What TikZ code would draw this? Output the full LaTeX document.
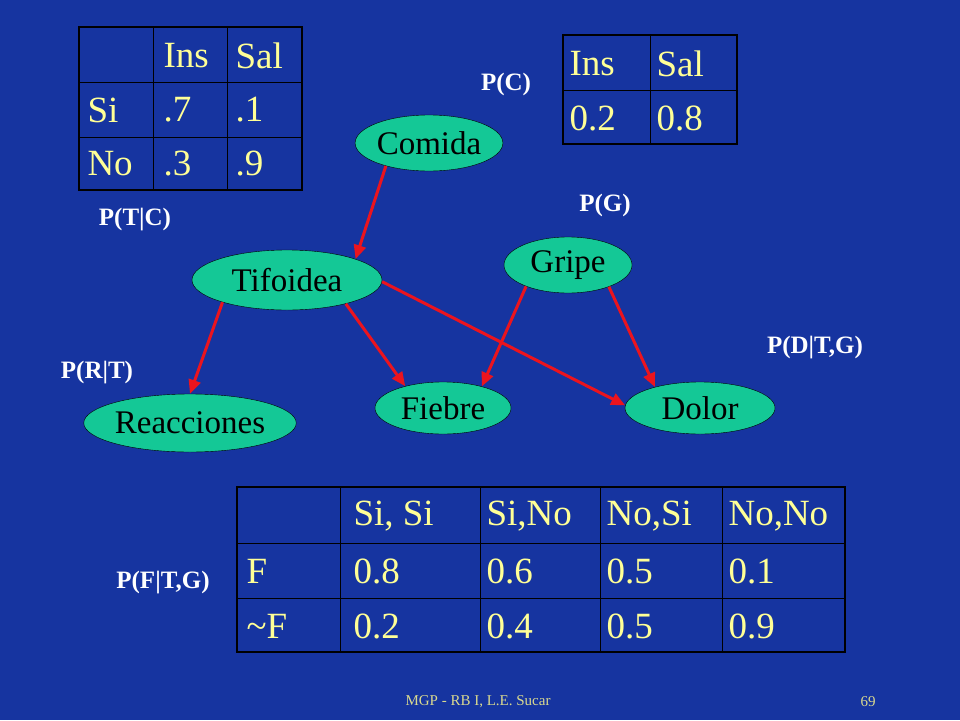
\documentclass[tikz,border=0pt]{standalone}
\usepackage{fontspec}
\setmainfont{Liberation Serif}
\usepackage{xcolor}
\usetikzlibrary{shapes.geometric,arrows.meta,calc}
\definecolor{slide}{RGB}{22,52,160}
\definecolor{nodefill}{RGB}{20,200,150}
\definecolor{celltext}{RGB}{255,255,150}
\definecolor{edgered}{RGB}{235,20,30}
\tikzset{
  var/.style={ellipse,draw=black,fill=nodefill,inner sep=0pt,font=\fontsize{33}{33}\selectfont},
  plabel/.style={text=white,font=\fontsize{25}{25}\selectfont\bfseries},
  cell/.style={anchor=west,text=celltext,font=\fontsize{37}{37}\selectfont},
  link/.style={edgered,line width=3pt,-{Triangle[length=14pt,width=12pt]}}
}
\begin{document}
\begin{tikzpicture}[x=1pt,y=-1pt]
      \fill[slide] (0,0) rectangle (960,720);
      \useasboundingbox (0,0) rectangle (960,720);

      % table P(T|C)
      \foreach \xx in {153,227} \draw[black] (\xx,27) -- (\xx,190);
      \foreach \yy in {82,137} \draw[black] (79,\yy) -- (302,\yy);
      \draw[black,line width=2.5pt] (79,27) rectangle (302,190);
      \node[cell] (tcA) at (160,56) {Ins};
      \node[cell] (tcB) at (232,56) {Sal};
      \node[cell] (tcC) at (84,110) {Si};
      \node[cell] (tcD) at (160,110) {.7};
      \node[cell] (tcE) at (232,110) {.1};
      \node[cell] (tcF) at (84,164) {No};
      \node[cell] (tcG) at (160,164) {.3};
      \node[cell] (tcH) at (232,164) {.9};

      % table P(C)
      \draw[black] (650,35) -- (650,144);
      \draw[black] (563,90) -- (737,90);
      \draw[black,line width=2.5pt] (563,35) rectangle (737,144);
      \node[cell] (cA) at (566,64) {Ins};
      \node[cell] (cB) at (653,64) {Sal};
      \node[cell] (cC) at (566,118) {0.2};
      \node[cell] (cD) at (653,118) {0.8};

      % table P(F|T,G)
      \foreach \xx in {340,480,600,722} \draw[black] (\xx,487) -- (\xx,652);
      \foreach \yy in {543,598} \draw[black] (237,\yy) -- (845,\yy);
      \draw[black,line width=2.5pt] (237,487) rectangle (845,652);
      \node[cell] (fA) at (350,516) {Si, Si};
      \node[cell] (fB) at (483,516) {Si,No};
      \node[cell] (fC) at (603,516) {No,Si};
      \node[cell] (fD) at (725,516) {No,No};
      \node[cell] (fE) at (243,571) {F};
      \node[cell] (fF) at (350,571) {0.8};
      \node[cell] (fG) at (483,571) {0.6};
      \node[cell] (fH) at (603,571) {0.5};
      \node[cell] (fI) at (725,571) {0.1};
      \node[cell] (fJ) at (243,626) {\char`\~F};
      \node[cell] (fK) at (350,626) {0.2};
      \node[cell] (fL) at (483,626) {0.4};
      \node[cell] (fM) at (603,626) {0.5};
      \node[cell] (fN) at (725,626) {0.9};

      % nodes
      \node[var,minimum width=140pt,minimum height=56pt] (comida) at (429,143) {Comida};
      \node[var,minimum width=190pt,minimum height=60pt] (tifo) at (287,280) {Tifoidea};
      \node[var,minimum width=128pt,minimum height=56pt] (gripe) at (568,265) {Gripe};
      \node[var,minimum width=190pt,minimum height=58pt] (reac) at (190,423) {Reacciones};
      \node[var,minimum width=136pt,minimum height=52pt] (fiebre) at (443,408) {Fiebre};
      \node[var,minimum width=150pt,minimum height=52pt] (dolor) at (700,408) {Dolor};

      % arcs
      \draw[link] (comida.208) -- (tifo.17);
      \draw[link] (tifo.199) -- (reac.90);
      \draw[link] (tifo.338) -- (fiebre.150);
      \draw[link] (tifo.359) -- (dolor.178);
      \draw[link] (gripe.207) -- (fiebre.29);
      \draw[link] (gripe.332) -- (dolor.155);

      % labels
      \node[plabel] (pc) at (506,84) {P(C)};
      \node[plabel] (pg) at (605,205) {P(G)};
      \node[plabel] (ptc) at (135,220) {P(T|C)};
      \node[plabel] (prt) at (97,373) {P(R|T)};
      \node[plabel] (pdtg) at (815,348) {P(D|T,G)};
      \node[plabel] (pftg) at (163,583) {P(F|T,G)};

      \node[text=celltext!70!gray,font=\fontsize{15}{15}\selectfont] (foot) at (478,702) {MGP - RB I, L.E. Sucar};
      \node[text=celltext!70!gray,font=\fontsize{15}{15}\selectfont] (pgno) at (868,702) {69};
\end{tikzpicture}
\end{document}
